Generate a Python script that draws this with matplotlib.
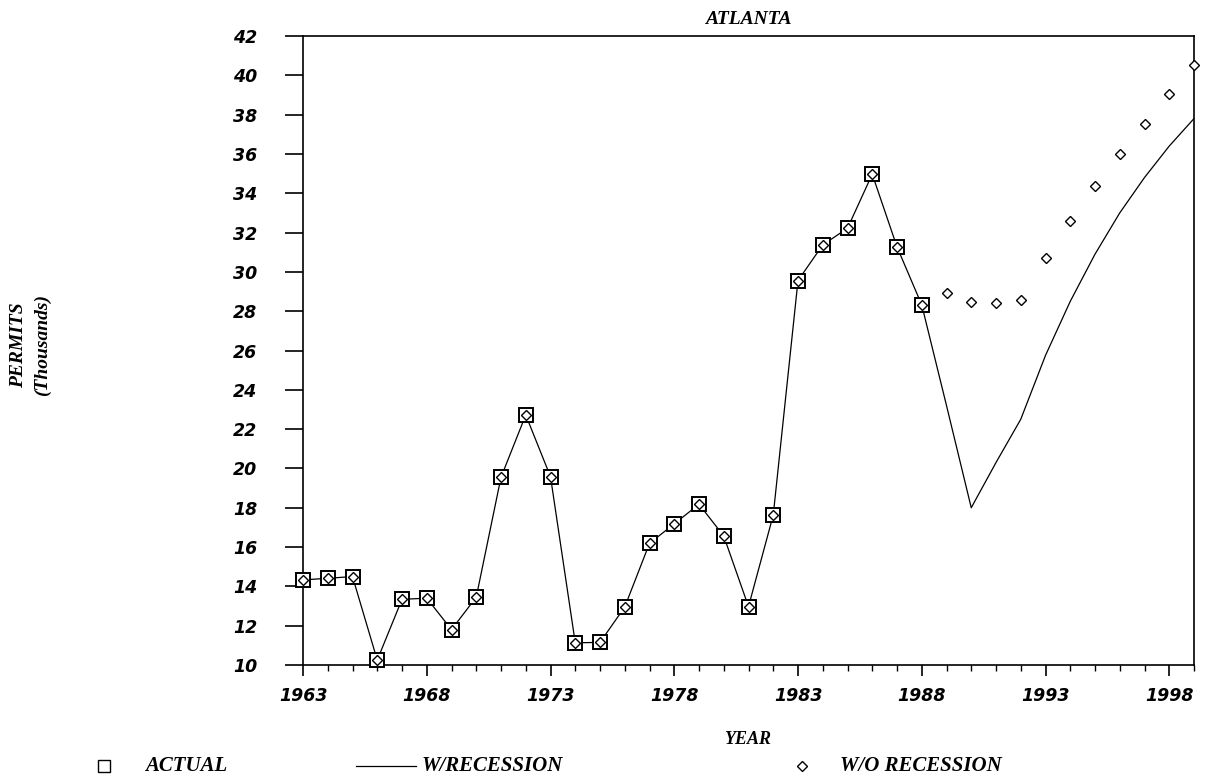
import matplotlib
matplotlib.use('Agg')
import matplotlib.pyplot as plt
from matplotlib.lines import Line2D
from matplotlib.ticker import MultipleLocator
from matplotlib.font_manager import FontProperties
import numpy as np


years = np.arange(1963, 2000)

# actual permits 1963-1988 (thousands)
actual = [14.33, 14.41, 14.5, 10.25, 13.34, 13.4, 11.8, 13.45, 19.55, 22.72,
          19.58, 11.13, 11.15, 12.95, 16.19, 17.18, 18.18, 16.56, 12.97, 17.63,
          29.56, 31.37, 32.22, 34.97, 31.27, 28.32]
# forecasts 1989-1999
with_rec = [23.2, 18.0, 20.3, 22.5, 25.75, 28.5, 30.9, 33.0, 34.8, 36.4, 37.8]
without_rec = [28.9, 28.49, 28.41, 28.57, 30.73, 32.61, 34.38, 35.99, 37.52, 39.04, 40.53]

xticks = [1963, 1968, 1973, 1978, 1983, 1988, 1993, 1998]

serif = 'Liberation Serif'
tickfont = FontProperties(family='DejaVu Sans', weight='bold', style='italic', size=12.5)

fig = plt.figure(figsize=(12.05, 7.83), dpi=100)
ax = fig.add_axes([303/1205, 1-665/783, (1194-303)/1205, (665-36)/783])

line_y = actual + with_rec
diam_y = actual + without_rec

ax.plot(years, line_y, color='black', lw=0.9, zorder=2)
ax.plot(years[:len(actual)], actual, ls='none', marker='s', ms=9.5,
        mfc='white', mec='black', mew=1.4, zorder=3, clip_on=False)
ax.plot(years, diam_y, ls='none', marker='D', ms=5.3,
        mfc='white', mec='black', mew=1.0, zorder=4, clip_on=False)

ax.set_xlim(1963, 1999)
ax.set_ylim(10, 42)
ax.set_xticks(xticks)
ax.xaxis.set_minor_locator(MultipleLocator(1))
ax.yaxis.set_major_locator(MultipleLocator(2))
ax.tick_params(axis='y', direction='out', length=13, width=1.2, pad=20)
ax.tick_params(axis='x', which='major', direction='out', length=8, width=1.2, pad=8)
ax.tick_params(axis='x', which='minor', direction='out', length=4, width=1.0)
for lab in ax.get_xticklabels() + ax.get_yticklabels():
    lab.set_fontproperties(tickfont)
for sp in ax.spines.values():
    sp.set_linewidth(1.2)

ax.set_title('ATLANTA', family=serif, weight='bold', style='italic', fontsize=14, pad=9)

fig.text(0.015, 1-345/783, 'PERMITS', rotation=90, family=serif, weight='bold',
         style='italic', fontsize=14, ha='center', va='center')
fig.text(0.035, 1-345/783, '(Thousands)', rotation=90, family=serif, weight='bold',
         style='italic', fontsize=14, ha='center', va='center')

fig.text(748/1205, 1-740/783, 'YEAR', family=serif, weight='bold', style='italic',
         fontsize=13, ha='center', va='center')

# legend row
ly = 1-766/783
fig.add_artist(Line2D([104/1205], [ly], transform=fig.transFigure, marker='s', ms=8,
                      mfc='white', mec='black', mew=1.0))
fig.text(145/1205, ly, 'ACTUAL', family=serif, weight='bold', style='italic',
         fontsize=15, va='center')
fig.add_artist(Line2D([356/1205, 416/1205], [ly, ly], transform=fig.transFigure,
                      color='black', lw=0.9))
fig.text(422/1205, ly, 'W/RECESSION', family=serif, weight='bold', style='italic',
         fontsize=15, va='center')
fig.add_artist(Line2D([802/1205], [ly], transform=fig.transFigure, marker='D', ms=5,
                      mfc='white', mec='black', mew=1.0))
fig.text(840/1205, ly, 'W/O RECESSION', family=serif, weight='bold', style='italic',
         fontsize=15, va='center')

plt.savefig('out.png', dpi=100)
